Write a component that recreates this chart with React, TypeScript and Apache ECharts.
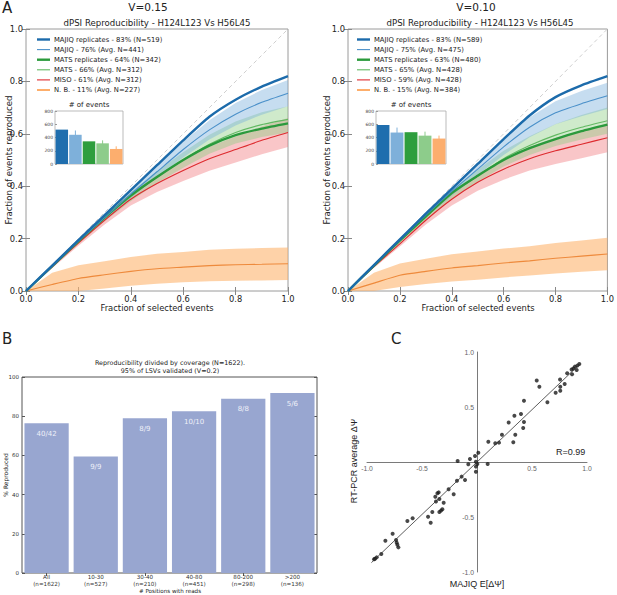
import React, { useEffect, useRef } from "react";
import * as echarts from "echarts";

// ---------- Panel A data ----------
const X = [0, 0.1, 0.2, 0.3, 0.4, 0.5, 0.6, 0.7, 0.8, 0.9, 1.0];

// V=0.15 (left)
const majiqRepL = [0, 0.097, 0.194, 0.29, 0.385, 0.48, 0.575, 0.665, 0.73, 0.78, 0.82];
const majiqL = [0, 0.095, 0.19, 0.28, 0.37, 0.455, 0.54, 0.615, 0.675, 0.72, 0.755];
const majiqBandL = [0, 0.003, 0.006, 0.01, 0.015, 0.022, 0.03, 0.037, 0.043, 0.047, 0.05];
const matsRepL = [0, 0.095, 0.19, 0.28, 0.365, 0.435, 0.5, 0.555, 0.595, 0.62, 0.64];
const matsL = [0, 0.094, 0.188, 0.278, 0.36, 0.435, 0.5, 0.56, 0.605, 0.635, 0.655];
const matsBandL = [0, 0.004, 0.008, 0.012, 0.017, 0.023, 0.03, 0.036, 0.042, 0.047, 0.05];
const misoL = [0, 0.092, 0.183, 0.27, 0.35, 0.41, 0.46, 0.505, 0.54, 0.575, 0.605];
const misoBandL = [0, 0.005, 0.01, 0.016, 0.024, 0.032, 0.04, 0.046, 0.05, 0.053, 0.055];
const nbL = [0, 0.025, 0.048, 0.062, 0.075, 0.085, 0.091, 0.097, 0.1, 0.102, 0.104];
const nbBandL = [0, 0.045, 0.05, 0.052, 0.055, 0.057, 0.058, 0.06, 0.061, 0.062, 0.062];

// V=0.10 (right)
const majiqRepR = [0, 0.099, 0.197, 0.295, 0.39, 0.485, 0.58, 0.67, 0.74, 0.785, 0.82];
const majiqR = [0, 0.098, 0.195, 0.29, 0.38, 0.465, 0.55, 0.625, 0.68, 0.715, 0.745];
const majiqBandR = [0, 0.003, 0.006, 0.01, 0.016, 0.023, 0.031, 0.038, 0.044, 0.048, 0.05];
const matsRepR = [0, 0.097, 0.193, 0.285, 0.375, 0.44, 0.5, 0.545, 0.58, 0.61, 0.635];
const matsR = [0, 0.096, 0.19, 0.282, 0.37, 0.44, 0.505, 0.555, 0.595, 0.625, 0.65];
const matsBandR = [0, 0.004, 0.008, 0.012, 0.017, 0.023, 0.03, 0.036, 0.042, 0.047, 0.05];
const misoR = [0, 0.093, 0.18, 0.27, 0.35, 0.415, 0.465, 0.505, 0.535, 0.56, 0.585];
const misoBandR = [0, 0.005, 0.01, 0.016, 0.024, 0.032, 0.04, 0.045, 0.05, 0.053, 0.055];
const nbR = [0, 0.03, 0.06, 0.075, 0.088, 0.097, 0.107, 0.115, 0.125, 0.133, 0.141];
const nbBandR = [0, 0.04, 0.045, 0.048, 0.052, 0.054, 0.055, 0.056, 0.058, 0.06, 0.062];

const legendL = [
  "MAJIQ replicates - 83% (N=519)",
  "MAJIQ - 76% (Avg. N=441)",
  "MATS replicates - 64% (N=342)",
  "MATS - 66% (Avg. N=312)",
  "MISO - 61% (Avg. N=312)",
  "N. B. - 11% (Avg. N=227)",
];
const legendR = [
  "MAJIQ replicates - 83% (N=589)",
  "MAJIQ - 75% (Avg. N=475)",
  "MATS replicates - 63% (N=480)",
  "MATS - 65% (Avg. N=428)",
  "MISO - 59% (Avg. N=428)",
  "N. B. - 15% (Avg. N=384)",
];

// inset "# of events"
const insetCats = ["MAJIQ replicates", "MAJIQ", "MATS replicates", "MATS", "N. B."];
const insetL = [519, 441, 342, 312, 227];
const insetErrL = [0, 65, 0, 45, 40];
const insetR = [589, 475, 480, 428, 384];
const insetErrR = [0, 75, 0, 60, 45];

// ---------- Panel B data ----------
const bCats = ["All\n(n=1622)", "10-30\n(n=527)", "30-40\n(n=210)", "40-80\n(n=451)", "80-200\n(n=298)", ">200\n(n=136)"];
const bValues = [76.4, 59.5, 79.0, 82.5, 88.9, 91.8];
const bLabels = ["40/42", "9/9", "8/9", "10/10", "8/8", "5/6"];

// ---------- Panel C data ----------
const scatterPts = [
  [0.93, 0.89], [0.912, 0.876], [0.89, 0.867], [0.876, 0.85], [0.86, 0.84], [0.906, 0.836],
  [0.82, 0.806], [0.864, 0.797], [0.755, 0.75], [0.797, 0.709], [0.757, 0.685], [0.757, 0.648],
  [0.715, 0.63], [0.543, 0.74], [0.567, 0.685], [0.64, 0.543], [0.427, 0.557], [0.4, 0.436],
  [0.34, 0.42], [0.427, 0.364], [0.288, 0.36], [0.42, 0.309], [0.348, 0.248], [0.227, 0.248],
  [0.33, 0.179], [0.2, 0.176], [0.166, 0.17], [0.103, 0.185],
  [0.012, 0.085], [-0.018, 0.055], [-0.064, 0.027], [-0.176, 0.009], [-0.01, 0.003],
  [0.003, -0.018], [-0.079, -0.021], [-0.01, -0.042], [-0.01, -0.088], [0.097, -0.018],
  [-0.14, -0.133], [-0.182, -0.17], [-0.109, -0.164], [-0.258, -0.248], [-0.212, -0.294],
  [-0.348, -0.276], [-0.36, -0.285], [-0.379, -0.315], [-0.342, -0.336], [-0.373, -0.36],
  [-0.303, -0.37], [-0.315, -0.43], [-0.327, -0.442], [-0.342, -0.455], [-0.406, -0.455],
  [-0.445, -0.497], [-0.585, -0.512], [-0.633, -0.536], [-0.421, -0.552], [-0.767, -0.652],
  [-0.833, -0.715], [-0.736, -0.709], [-0.73, -0.733], [-0.724, -0.752], [-0.715, -0.776],
  [-0.87, -0.836], [-0.912, -0.867], [-0.927, -0.879], [-0.936, -0.885],
];
const fitLine = [[-0.96, -0.915], [0.935, 0.89]];

// ---------- styling ----------
const C_MAJIQ_REP = "#1c6bab";
const C_MAJIQ = "#4a90c9";
const C_MAJIQ_BAND = "rgba(120,175,220,0.42)";
const C_MATS_REP = "#2a9a3c";
const C_MATS = "#62b862";
const C_MATS_BAND = "rgba(140,205,130,0.42)";
const C_MISO = "#dd2a2e";
const C_MISO_BAND = "rgba(240,120,125,0.42)";
const C_NB = "#ee8a3c";
const C_NB_BAND = "rgba(253,180,110,0.6)";
const INSET_COLORS = ["#1f6eae", "#7eb0da", "#2e9e3e", "#8dcc8b", "#fcae6e"];
const DJ = "DejaVu Sans";
const LS = "Liberation Sans";

function pts(ys: number[]) {
  return X.map((x, i) => [x, ys[i]]);
}

function bandSeries(ax: number, mean: number[], half: number[], color: string) {
  const lo = mean.map((m, i) => Math.max(0, m - half[i]));
  const hi = mean.map((m, i) => m + half[i]);
  return {
    type: "custom",
    xAxisIndex: ax,
    yAxisIndex: ax,
    data: [[0.5, 0.5]],
    silent: true,
    z: 1,
    renderItem: (params: any, api: any) => {
      const up = X.map((x, i) => api.coord([x, hi[i]]));
      const dn = X.map((x, i) => api.coord([x, lo[i]])).reverse();
      return {
        type: "polygon",
        shape: { points: up.concat(dn) },
        style: { fill: color, stroke: "none" },
      };
    },
  };
}

function lineSeries(ax: number, ys: number[], color: string, width: number) {
  return {
    type: "line",
    xAxisIndex: ax,
    yAxisIndex: ax,
    data: pts(ys),
    symbol: "none",
    smooth: 0.2,
    z: 3,
    lineStyle: { color, width },
  };
}

function panelSeries(ax: number, d: any) {
  return [
    {
      type: "line",
      xAxisIndex: ax,
      yAxisIndex: ax,
      data: [[0, 0], [1, 1]],
      symbol: "none",
      z: 2,
      lineStyle: { color: "#cfcfcf", width: 1, type: [4, 3] },
    },
    bandSeries(ax, d.nb, d.nbBand, C_NB_BAND),
    bandSeries(ax, d.miso, d.misoBand, C_MISO_BAND),
    bandSeries(ax, d.mats, d.matsBand, C_MATS_BAND),
    bandSeries(ax, d.majiq, d.majiqBand, C_MAJIQ_BAND),
    lineSeries(ax, d.nb, C_NB, 1.1),
    lineSeries(ax, d.miso, C_MISO, 1.1),
    lineSeries(ax, d.mats, C_MATS, 1.1),
    lineSeries(ax, d.matsRep, C_MATS_REP, 2.4),
    lineSeries(ax, d.majiq, C_MAJIQ, 1.1),
    lineSeries(ax, d.majiqRep, C_MAJIQ_REP, 2.4),
  ];
}

function aAxis(gridIndex: number, position: string, showLabel: boolean) {
  const isX = position === "bottom" || position === "top";
  return {
    type: "value",
    gridIndex,
    position,
    min: 0,
    max: 1,
    interval: 0.2,
    axisLine: { show: false },
    axisTick: { show: true, inside: true, length: 4, lineStyle: { color: "#888" } },
    splitLine: { show: false },
    axisLabel: {
      show: showLabel,
      formatter: (v: number) => v.toFixed(1),
      fontSize: 8.3,
      color: "#222",
      fontFamily: DJ,
      margin: isX ? 4 : 3,
    },
  };
}

function legendGraphics(x0: number, texts: string[]) {
  const colors = [C_MAJIQ_REP, C_MAJIQ, C_MATS_REP, C_MATS, C_MISO, "#fdae6b"];
  const widths = [2.4, 1.1, 2.4, 1.1, 1.1, 2];
  const out: any[] = [];
  texts.forEach((t, i) => {
    const y = 39.5 + i * 10.1;
    out.push({
      type: "line",
      shape: { x1: x0, y1: y, x2: x0 + 13, y2: y },
      style: { stroke: colors[i], lineWidth: widths[i] },
    });
    out.push({
      type: "text",
      x: x0 + 17,
      y,
      style: { text: t, fontSize: 6.8, fontFamily: DJ, fill: "#222", align: "left", verticalAlign: "middle" },
    });
  });
  return out;
}

function txt(text: string, x: number, y: number, fontSize: number, opts: any = {}) {
  return {
    type: "text",
    x,
    y,
    rotation: opts.rotation || 0,
    style: {
      text,
      fontSize,
      fontFamily: opts.font || DJ,
      fill: opts.fill || "#222",
      align: opts.align || "center",
      verticalAlign: "middle",
    },
  };
}

function insetAxes(gridIndex: number) {
  return {
    x: {
      type: "category",
      gridIndex,
      data: insetCats,
      axisLine: { show: false },
      axisTick: { show: false },
      axisLabel: { show: false },
    },
    y: {
      type: "value",
      gridIndex,
      min: 0,
      max: 800,
      interval: 200,
      axisLine: { show: false },
      axisTick: { show: true, inside: true, length: 2, lineStyle: { color: "#999" } },
      splitLine: { show: false },
      axisLabel: { fontSize: 4.5, color: "#444", fontFamily: DJ, margin: 2 },
    },
  };
}

function insetSeries(ax: number, vals: number[], errs: number[]) {
  return [
    {
      type: "bar",
      xAxisIndex: ax,
      yAxisIndex: ax,
      barCategoryGap: "8%",
      data: vals.map((v, i) => ({ value: v, itemStyle: { color: INSET_COLORS[i] } })),
    },
    {
      type: "custom",
      xAxisIndex: ax,
      yAxisIndex: ax,
      data: vals.map((v, i) => [i, v, errs[i]]),
      z: 5,
      renderItem: (params: any, api: any) => {
        const e = api.value(2);
        if (!e) return null;
        const i = api.value(0);
        const v = api.value(1);
        const top = api.coord([i, v + e]);
        const bot = api.coord([i, v - e]);
        return {
          type: "line",
          shape: { x1: top[0], y1: top[1], x2: bot[0], y2: bot[1] },
          style: { stroke: INSET_COLORS[i], lineWidth: 1 },
        };
      },
    },
  ];
}

function buildOption() {
  const insL = insetAxes(2);
  const insR = insetAxes(3);
  const cAxisLabel = {
    fontSize: 6.8,
    color: "#666",
    fontFamily: LS,
    margin: 3,
    formatter: (v: number) => (v === 0 ? "" : v.toFixed(1)),
  };
  const option: any = {
    animation: false,
    backgroundColor: "#fff",
    grid: [
      { left: 26, top: 29, width: 262, height: 262, show: true, borderColor: "#9a9a9a", borderWidth: 1 },
      { left: 348, top: 29, width: 261, height: 262, show: true, borderColor: "#9a9a9a", borderWidth: 1 },
      { left: 55, top: 111, width: 68, height: 53, show: true, borderColor: "#aaa", borderWidth: 0.8, backgroundColor: "#fff" },
      { left: 376, top: 111, width: 70, height: 53, show: true, borderColor: "#aaa", borderWidth: 0.8, backgroundColor: "#fff" },
      { left: 22, top: 377, width: 295, height: 196, show: true, borderColor: "#555", borderWidth: 1 },
      { left: 367, top: 352, width: 220, height: 220 },
    ],
    xAxis: [
      aAxis(0, "bottom", true),
      aAxis(0, "top", false),
      aAxis(1, "bottom", true),
      aAxis(1, "top", false),
      insL.x,
      insR.x,
      {
        type: "category",
        gridIndex: 4,
        position: "bottom",
        data: bCats,
        axisLine: { show: false },
        axisTick: { show: true, inside: true, alignWithLabel: true, length: 3, lineStyle: { color: "#555" } },
        axisLabel: { fontSize: 5.6, color: "#333", fontFamily: DJ, margin: 1, lineHeight: 6.6 },
      },
      {
        type: "category",
        gridIndex: 4,
        position: "top",
        data: bCats,
        axisLine: { show: false },
        axisTick: { show: true, inside: true, alignWithLabel: true, length: 3, lineStyle: { color: "#555" } },
        axisLabel: { show: false },
      },
      {
        type: "value",
        gridIndex: 5,
        position: "bottom",
        offset: -110,
        min: -1,
        max: 1,
        interval: 0.5,
        axisLine: { show: true, onZero: false, lineStyle: { color: "#7a7a7a", width: 1 } },
        axisTick: { show: false },
        splitLine: { show: false },
        axisLabel: cAxisLabel,
      },
    ],
    yAxis: [
      aAxis(0, "left", true),
      aAxis(0, "right", false),
      aAxis(1, "left", true),
      aAxis(1, "right", false),
      insL.y,
      insR.y,
      {
        type: "value",
        gridIndex: 4,
        position: "left",
        min: 0,
        max: 100,
        interval: 20,
        axisLine: { show: false },
        axisTick: { show: true, inside: true, length: 3, lineStyle: { color: "#555" } },
        splitLine: { show: false },
        axisLabel: { fontSize: 5.5, color: "#333", fontFamily: DJ, margin: 3 },
      },
      {
        type: "value",
        gridIndex: 4,
        position: "right",
        min: 0,
        max: 100,
        interval: 20,
        axisLine: { show: false },
        axisTick: { show: true, inside: true, length: 3, lineStyle: { color: "#555" } },
        splitLine: { show: false },
        axisLabel: { show: false },
      },
      {
        type: "value",
        gridIndex: 5,
        position: "left",
        offset: -110,
        min: -1,
        max: 1,
        interval: 0.5,
        axisLine: { show: true, onZero: false, lineStyle: { color: "#7a7a7a", width: 1 } },
        axisTick: { show: false },
        splitLine: { show: false },
        axisLabel: cAxisLabel,
      },
    ],
    series: [] as any[],
    graphic: [] as any[],
  };

  const dL = {
    majiqRep: majiqRepL, majiq: majiqL, majiqBand: majiqBandL,
    matsRep: matsRepL, mats: matsL, matsBand: matsBandL,
    miso: misoL, misoBand: misoBandL, nb: nbL, nbBand: nbBandL,
  };
  const dR = {
    majiqRep: majiqRepR, majiq: majiqR, majiqBand: majiqBandR,
    matsRep: matsRepR, mats: matsR, matsBand: matsBandR,
    miso: misoR, misoBand: misoBandR, nb: nbR, nbBand: nbBandR,
  };
  option.series.push(...panelSeries(0, dL), ...panelSeries(2, dR));
  option.series.push(...insetSeries(4, insetL, insetErrL));
  option.series.push(...insetSeries(5, insetR, insetErrR));
  option.series.push({
    type: "bar",
    xAxisIndex: 6,
    yAxisIndex: 6,
    barCategoryGap: "10%",
    data: bValues,
    itemStyle: { color: "#98a6d0" },
    label: {
      show: true,
      position: "insideTop",
      distance: 7,
      formatter: (p: any) => bLabels[p.dataIndex],
      fontSize: 7,
      fontFamily: DJ,
      color: "#eef0f8",
    },
  });
  option.series.push({
    type: "line",
    xAxisIndex: 8,
    yAxisIndex: 8,
    data: fitLine,
    symbol: "none",
    lineStyle: { color: "#333", width: 0.8 },
  });
  option.series.push({
    type: "scatter",
    xAxisIndex: 8,
    yAxisIndex: 8,
    data: scatterPts,
    symbolSize: 4,
    itemStyle: { color: "#1a1a1a" },
  });

  const g = option.graphic;
  g.push(txt("A", 2, 8, 15, { align: "left" }));
  g.push(txt("B", 2, 339, 15, { align: "left" }));
  g.push(txt("C", 391, 339, 15, { align: "left" }));
  g.push(txt("V=0.15", 148, 7, 10.5));
  g.push(txt("dPSI Reproducibility - H124L123 Vs H56L45", 157, 22.5, 8.6));
  g.push(txt("V=0.10", 476, 7, 10.5));
  g.push(txt("dPSI Reproducibility - H124L123 Vs H56L45", 480, 22.5, 8.6));
  g.push(txt("Fraction of selected events", 157, 308, 8.4));
  g.push(txt("Fraction of selected events", 478, 308, 8.4));
  g.push(txt("Fraction of events reproduced", 9, 160, 8.6, { rotation: Math.PI / 2 }));
  g.push(txt("Fraction of events reproduced", 327, 160, 8.6, { rotation: Math.PI / 2 }));
  g.push(...legendGraphics(37, legendL));
  g.push(...legendGraphics(357, legendR));
  g.push(txt("# of events", 89, 105, 7));
  g.push(txt("# of events", 411, 105, 7));
  g.push(txt("Reproducibility divided by coverage (N=1622).", 170, 363, 6.4));
  g.push(txt("95% of LSVs validated (V=0.2)", 170, 371, 6.4));
  g.push(txt("% Reproduced", 5, 475, 6, { rotation: Math.PI / 2 }));
  g.push(txt("# Positions with reads", 170, 591.2, 5.6));
  g.push(txt("R=0.99", 556, 452, 9, { align: "left", font: LS }));
  g.push(txt("MAJIQ E[ΔΨ]", 477, 584, 9, { font: LS }));
  g.push(txt("RT-PCR average ΔΨ", 354, 461, 9, { rotation: Math.PI / 2, font: LS }));
  return option;
}

export default function App() {
  const ref = useRef<HTMLDivElement>(null);
  useEffect(() => {
    const chart = echarts.init(ref.current!, null, { renderer: "svg" });
    chart.setOption(buildOption());
    return () => chart.dispose();
  }, []);
  return (
    <div
      ref={ref}
      style={{ position: "fixed", left: 0, top: 0, width: 617, height: 595, background: "#fff" }}
    />
  );
}
